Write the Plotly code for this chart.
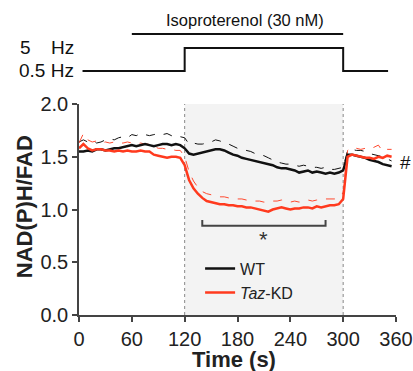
import plotly.graph_objects as go

time_s = [0, 5, 10, 15, 20, 25, 30, 35, 40, 45, 50, 55, 60, 65, 70, 75, 80, 85, 90, 95,
          100, 105, 110, 115, 120, 125, 130, 135, 140, 145, 150, 155, 160, 165, 170, 175,
          180, 185, 190, 195, 200, 205, 210, 215, 220, 225, 230, 235, 240, 245, 250, 255,
          260, 265, 270, 275, 280, 285, 290, 295, 300, 305, 310, 315, 320, 325, 330, 335,
          340, 345, 350, 355]

wt_mean = [1.55, 1.55, 1.56, 1.55, 1.57, 1.57, 1.56, 1.57, 1.58, 1.58, 1.59, 1.60, 1.61, 1.60,
           1.61, 1.62, 1.61, 1.60, 1.61, 1.62, 1.62, 1.61, 1.62, 1.61, 1.58, 1.53, 1.52, 1.53,
           1.54, 1.55, 1.56, 1.57, 1.57, 1.56, 1.54, 1.52, 1.51, 1.49, 1.48, 1.47, 1.46, 1.45,
           1.44, 1.43, 1.42, 1.40, 1.39, 1.39, 1.38, 1.37, 1.35, 1.36, 1.37, 1.35, 1.36, 1.35,
           1.34, 1.35, 1.34, 1.35, 1.37, 1.52, 1.52, 1.51, 1.50, 1.49, 1.47, 1.46, 1.45, 1.43,
           1.42, 1.41]

wt_upper = [1.64, 1.66, 1.64, 1.65, 1.63, 1.64, 1.66, 1.67, 1.66, 1.68, 1.69, 1.68, 1.71, 1.70,
            1.72, 1.71, 1.70, 1.71, 1.72, 1.71, 1.72, 1.70, 1.71, 1.69, 1.68, 1.62, 1.63, 1.62,
            1.62, 1.63, 1.64, 1.66, 1.65, 1.63, 1.62, 1.60, 1.58, 1.57, 1.56, 1.55, 1.53, 1.52,
            1.51, 1.49, 1.47, 1.45, 1.44, 1.43, 1.43, 1.42, 1.41, 1.42, 1.41, 1.40, 1.40, 1.39,
            1.40, 1.38, 1.38, 1.39, 1.40, 1.56, 1.57, 1.56, 1.56, 1.55, 1.53, 1.52, 1.51, 1.50,
            1.48, 1.46]

ko_mean = [1.58, 1.62, 1.58, 1.56, 1.57, 1.57, 1.56, 1.56, 1.55, 1.56, 1.55, 1.56, 1.55, 1.55,
           1.56, 1.55, 1.55, 1.52, 1.51, 1.50, 1.49, 1.50, 1.50, 1.49, 1.42, 1.28, 1.20, 1.15,
           1.11, 1.08, 1.07, 1.06, 1.05, 1.05, 1.04, 1.04, 1.03, 1.03, 1.02, 1.02, 1.01, 1.00,
           0.99, 0.98, 1.00, 1.01, 1.02, 1.01, 1.00, 1.01, 1.01, 1.02, 1.02, 1.01, 1.03, 1.02,
           1.03, 1.04, 1.04, 1.05, 1.10, 1.50, 1.52, 1.51, 1.50, 1.49, 1.49, 1.48, 1.50, 1.49,
           1.51, 1.50]

ko_upper = [1.63, 1.72, 1.66, 1.64, 1.65, 1.63, 1.64, 1.63, 1.64, 1.63, 1.63, 1.64, 1.63, 1.62,
            1.63, 1.62, 1.62, 1.60, 1.58, 1.58, 1.57, 1.57, 1.56, 1.56, 1.50, 1.36, 1.27, 1.21,
            1.17, 1.15, 1.14, 1.13, 1.12, 1.12, 1.11, 1.11, 1.10, 1.10, 1.09, 1.09, 1.08, 1.08,
            1.07, 1.07, 1.08, 1.08, 1.09, 1.08, 1.07, 1.08, 1.07, 1.08, 1.09, 1.08, 1.09, 1.09,
            1.10, 1.10, 1.10, 1.11, 1.16, 1.56, 1.59, 1.58, 1.57, 1.58, 1.57, 1.59, 1.61, 1.55,
            1.57, 1.57]

x_ticks = [0, 60, 120, 180, 240, 300, 360]
y_ticks = [0.0, 0.5, 1.0, 1.5, 2.0]

iso_start, iso_end = 60, 300
stim_start, stim_end = 120, 300
protocol_start, protocol_end = 4, 351
bracket_start, bracket_end = 140, 280

BLACK = "#111111"
RED = "#ff3a1e"
RED_DASH = "#ff4a30"
FONT = "Liberation Sans, Arial, sans-serif"

fig = go.Figure()
fig.add_trace(go.Scatter(x=time_s, y=wt_upper, mode="lines", showlegend=False,
                         line=dict(color=BLACK, width=1, dash="dash")))
fig.add_trace(go.Scatter(x=time_s, y=ko_upper, mode="lines", showlegend=False,
                         line=dict(color=RED_DASH, width=1, dash="dash")))
fig.add_trace(go.Scatter(x=time_s, y=wt_mean, mode="lines", name="WT",
                         line=dict(color=BLACK, width=2.5)))
fig.add_trace(go.Scatter(x=time_s, y=ko_mean, mode="lines", name="<i>Taz</i>-KD",
                         line=dict(color=RED, width=2.5)))

shapes = [
    dict(type="rect", xref="x", yref="y", x0=stim_start, x1=stim_end, y0=0, y1=2.0,
         fillcolor="#f3f3f3", line=dict(width=0), layer="below"),
    dict(type="line", xref="x", yref="y", x0=stim_start, x1=stim_start, y0=0, y1=2.0,
         line=dict(color="#888888", width=1, dash="dot"), layer="below"),
    dict(type="line", xref="x", yref="y", x0=stim_end, x1=stim_end, y0=0, y1=2.0,
         line=dict(color="#888888", width=1, dash="dot"), layer="below"),
    # isoproterenol bar
    dict(type="line", xref="x", yref="paper", x0=iso_start, x1=iso_end, y0=1.332, y1=1.332,
         line=dict(color=BLACK, width=2)),
    # pacing protocol
    dict(type="path", xref="x", yref="paper",
         path=(f"M {protocol_start},1.156 L {stim_start},1.156 L {stim_start},1.265 "
               f"L {stim_end},1.265 L {stim_end},1.156 L {protocol_end},1.156"),
         line=dict(color=BLACK, width=2)),
    # significance bracket
    dict(type="path", xref="x", yref="y",
         path=(f"M {bracket_start},0.90 L {bracket_start},0.845 L {bracket_end},0.845 "
               f"L {bracket_end},0.90"),
         line=dict(color="#444444", width=2)),
]


def ann(text, x, y, xref="paper", yref="paper", size=19, xanchor="center",
        color=BLACK, **kw):
    return dict(text=text, x=x, y=y, xref=xref, yref=yref, showarrow=False,
                xanchor=xanchor, yanchor="middle",
                font=dict(size=size, color=color, family=FONT), **kw)


annotations = [
    ann("Isoproterenol (30 nM)", 188, 1.40, xref="x", size=16.5),
    ann("5", -0.1926, 1.268, xanchor="left"),
    ann("Hz", -0.0095, 1.268, xanchor="right"),
    ann("0.5 Hz", -0.0095, 1.161, xanchor="right"),
    ann("*", 210, 0.72, xref="x", yref="y", size=22, color="#333333"),
    ann("#", 1.029, 1.45, yref="y"),
    ann("<b>NAD(P)H/FAD</b>", -0.174, 0.515, size=22, color="#222222", textangle=-90),
    ann("<b>Time (s)</b>", 0.49, -0.212, size=22, color="#222222"),
]

axis_common = dict(automargin=False, showgrid=False, zeroline=False, showline=True,
                   linecolor="#444444", linewidth=1.5, ticks="outside", ticklen=5,
                   tickcolor="#444444", tickwidth=1.5,
                   tickfont=dict(size=20, color="#222222"))

fig.update_layout(
    width=413, height=371,
    margin=dict(l=79, r=17, t=104, b=56),
    paper_bgcolor="white", plot_bgcolor="white",
    font=dict(family=FONT, color="#222222"),
    shapes=shapes, annotations=annotations,
    legend=dict(x=0.382, y=0.30, xanchor="left", yanchor="top",
                bgcolor="rgba(0,0,0,0)", font=dict(size=16, color="#222222", family=FONT)),
    xaxis=dict(range=[0, 360], tickvals=x_ticks, ticktext=[str(v) for v in x_ticks],
               **axis_common),
    yaxis=dict(range=[0, 2.0], tickvals=y_ticks, ticktext=[f"{v:.1f}" for v in y_ticks],
               **axis_common),
)

# Remove the browser's default body margin so the figure fills the window exactly.
fig.write_html("out.html",
               config={"displayModeBar": False},
               post_script="document.body.style.margin='0';document.body.style.overflow='hidden';")
